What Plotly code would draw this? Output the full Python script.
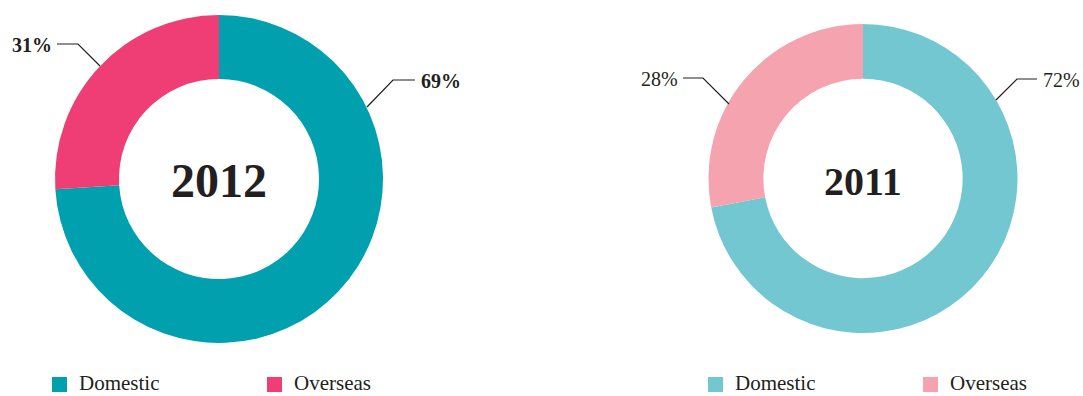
import plotly.graph_objects as go

W, H = 1083, 396

categories = ["Domestic", "Overseas"]
# slice shares as drawn in the reference rings
values_2012 = [74, 26]
values_2011 = [72, 28]
# percentages printed beside the rings
labels_2012 = ["69%", "31%"]
labels_2011 = ["72%", "28%"]
colors_2012 = ["#00A0AF", "#EF3E76"]
colors_2011 = ["#73C7D1", "#F5A3AF"]
years = ["2012", "2011"]

SERIF = "Liberation Serif, Times New Roman, serif"
INK = "#231F20"


def px(x):
    return x / W


def py(y):
    return 1 - y / H


fig = go.Figure()

fig.add_trace(go.Pie(
    labels=categories, values=values_2012, sort=False, direction="clockwise",
    rotation=0, hole=0.61, textinfo="none", hoverinfo="label",
    marker=dict(colors=colors_2012, line=dict(width=0)),
    domain=dict(x=[px(55), px(383)], y=[py(343), py(15)]),
    showlegend=False,
))
fig.add_trace(go.Pie(
    labels=categories, values=values_2011, sort=False, direction="clockwise",
    rotation=0, hole=0.645, textinfo="none", hoverinfo="label",
    marker=dict(colors=colors_2011, line=dict(width=0)),
    domain=dict(x=[px(708), px(1018)], y=[py(333), py(24)]),
    showlegend=False,
))

# center year labels
fig.add_annotation(x=px(219), y=py(180), xref="paper", yref="paper", text=f"<b>{years[0]}</b>",
                   showarrow=False, xanchor="center", yanchor="middle",
                   font=dict(family=SERIF, size=48, color=INK))
fig.add_annotation(x=px(863), y=py(182), xref="paper", yref="paper", text=f"<b>{years[1]}</b>",
                   showarrow=False, xanchor="center", yanchor="middle",
                   font=dict(family=SERIF, size=40, color=INK))

# leader lines: (start, elbow, end, label, side, bold)
leaders = [
    ((100, 66), (78, 44), (57, 44), labels_2012[1], "right", True),
    ((367, 107), (393, 80), (415, 80), labels_2012[0], "left", True),
    ((729, 104), (703, 78), (683, 78), labels_2011[1], "right", False),
    ((996, 100), (1017, 79), (1037, 79), labels_2011[0], "left", False),
]
for s, e, t, lab, side, bold in leaders:
    path = f"M {px(s[0])} {py(s[1])} L {px(e[0])} {py(e[1])} L {px(t[0])} {py(t[1])}"
    fig.add_shape(type="path", path=path, xref="paper", yref="paper",
                  line=dict(color=INK, width=1.2))
    label = f"<b>{lab}</b>" if bold else lab
    tx = t[0] - 3 if side == "right" else t[0] + 4
    fig.add_annotation(x=px(tx), y=py(t[1] + 1), xref="paper", yref="paper", text=label,
                       showarrow=False, xanchor="right" if side == "right" else "left",
                       yanchor="middle",
                       font=dict(family=SERIF, size=20, color=INK))

# legends (one per chart): square swatch + label
legend_items = [
    ((52, 267), colors_2012),
    ((708, 923), colors_2011),
]
for xs, cols in legend_items:
    for x0, cat, col in zip(xs, categories, cols):
        fig.add_shape(type="rect", xref="paper", yref="paper",
                      x0=px(x0), x1=px(x0 + 15), y0=py(392), y1=py(377),
                      fillcolor=col, line=dict(width=0))
        fig.add_annotation(x=px(x0 + 26), y=py(383), xref="paper", yref="paper", text=cat,
                           showarrow=False, xanchor="left", yanchor="middle", borderpad=0,
                           font=dict(family=SERIF, size=21, color=INK))

fig.update_layout(
    width=W, height=H,
    margin=dict(l=0, r=0, t=0, b=0, autoexpand=False),
    paper_bgcolor="white", plot_bgcolor="white",
    showlegend=False,
)

fig.write_html("out.html")
